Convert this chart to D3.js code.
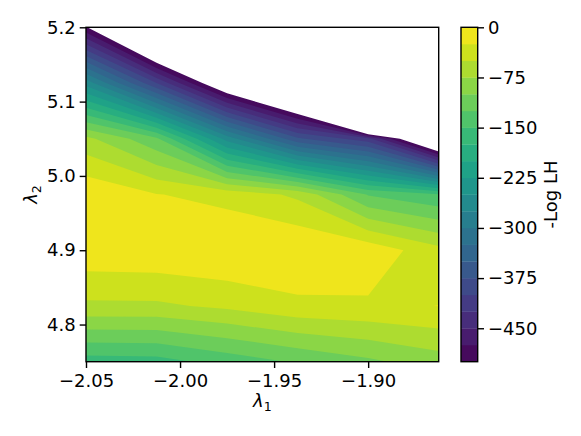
<!DOCTYPE html>
<html><head><meta charset="utf-8">
<script src="https://cdn.jsdelivr.net/npm/d3@7"></script>
<style>
body{margin:0;background:#fff}
text{font-family:"DejaVu Sans",sans-serif;fill:#000}
</style>
</head><body>
<svg id="chart" width="581" height="436"></svg>
<script>
// grid of the scan
const lambda1 = [-2.05, -2.0125, -1.975, -1.9375, -1.9, -1.8625];
const lambda2 = [5.2, 5.125, 5.05, 4.975, 4.9, 4.825, 4.75];
// -Log LH values, one row per lambda2 (top to bottom), one column per lambda1
const row520  = [-497, -676, -850, -1000, -1700, -1800];
const row5125 = [-260, -400, -554, -663, -1440, -1300];
const row505  = [-68, -120, -260, -370, -416, -603];
const row4975 = [-4, -24, -33.6, -55, -127, -148];
const row490  = [-7, -5, -1, -1, -8, -42];
const row4825 = [-54.8, -54.5, -45, -31.1, -28.9, -24.7];
const row475  = [-162, -160, -140, -122, -105, -87];
const negLogLH = [row520, row5125, row505, row4975, row490, row4825, row475];

const levels = [-500,-475,-450,-425,-400,-375,-350,-325,-300,-275,-250,-225,-200,-175,-150,-125,-100,-75,-50,-25,0];
const xTicks = [-2.05, -2.00, -1.95, -1.90];
const yTicks = [4.8, 4.9, 5.0, 5.1, 5.2];
const cbTicks = [0, -75, -150, -225, -300, -375, -450];

const svg = d3.select("#chart");
const L = 86, R = 438.7, T = 27.3, B = 361.7;
const x = d3.scaleLinear().domain(d3.extent(lambda1)).range([L, R]);
const y = d3.scaleLinear().domain(d3.extent(lambda2)).range([B, T]);

const nx = lambda1.length, ny = lambda2.length;
const stepX = lambda1[1] - lambda1[0], stepY = lambda2[1] - lambda2[0];
const gx = c => lambda1[0] + (c - 0.5) * stepX;
const gy = r => lambda2[0] + (r - 0.5) * stepY;

const vmin = levels[0], vmax = levels[levels.length - 1];
const bandColor = i => d3.interpolateViridis(((levels[i] + levels[i + 1]) / 2 - vmin) / (vmax - vmin));

svg.append("defs").append("clipPath").attr("id", "clip")
  .append("rect").attr("x", L).attr("y", T).attr("width", R - L).attr("height", B - T);

const values = negLogLH.flat();
const contours = d3.contours().size([nx, ny]).thresholds(levels.slice(0, -1))(values);
const proj = d3.geoTransform({ point: function(px, py) { this.stream.point(x(gx(px)), y(gy(py))); } });
const path = d3.geoPath(proj);

svg.append("g").attr("clip-path", "url(#clip)")
  .selectAll("path").data(contours).join("path")
  .attr("d", path)
  .attr("fill", d => bandColor(levels.indexOf(d.value)))
  .attr("stroke", "none");

// axes
const fs = 18, tick = 6.3;
const xAxis = d3.axisBottom(x).tickValues(xTicks).tickFormat(d3.format(".2f")).tickSize(tick).tickSizeOuter(0).tickPadding(6.3);
const gX = svg.append("g").attr("transform", `translate(0,${B})`).call(xAxis);
const yAxis = d3.axisLeft(y).tickValues(yTicks).tickFormat(d3.format(".1f")).tickSize(tick).tickSizeOuter(0).tickPadding(4);
const gY = svg.append("g").attr("transform", `translate(${L},0)`).call(yAxis);
[gX, gY].forEach(g => {
  g.select(".domain").remove();
  g.selectAll("line").attr("stroke", "#000").attr("stroke-width", 1.4);
  g.selectAll("text").attr("font-size", fs).attr("font-family", "DejaVu Sans").attr("fill", "#000");
});

svg.append("rect").attr("x", L).attr("y", T).attr("width", R - L).attr("height", B - T)
  .attr("fill", "none").attr("stroke", "#000").attr("stroke-width", 1.4);

// axis labels
const xl = svg.append("text").attr("x", (L + R) / 2).attr("y", 407).attr("text-anchor", "middle").attr("font-size", fs);
xl.append("tspan").attr("font-style", "italic").text("λ");
xl.append("tspan").attr("font-size", 12.6).attr("dy", 3.8).text("1");

const yl = svg.append("text").attr("transform", `translate(37,${(T + B) / 2}) rotate(-90)`).attr("text-anchor", "middle").attr("font-size", fs);
yl.append("tspan").attr("font-style", "italic").text("λ");
yl.append("tspan").attr("font-size", 12.6).attr("dy", 3.8).text("2");

// colorbar
const CL = 461, CR = 477.7;
const cy = d3.scaleLinear().domain([vmin, vmax]).range([B, T]);
svg.append("g").selectAll("rect").data(d3.range(levels.length - 1)).join("rect")
  .attr("x", CL).attr("width", CR - CL)
  .attr("y", i => cy(levels[i + 1])).attr("height", i => cy(levels[i]) - cy(levels[i + 1]) + 0.3)
  .attr("fill", i => bandColor(i));
svg.append("rect").attr("x", CL).attr("y", T).attr("width", CR - CL).attr("height", B - T)
  .attr("fill", "none").attr("stroke", "#000").attr("stroke-width", 1.4);
const cAxis = d3.axisRight(cy).tickValues(cbTicks).tickFormat(d3.format("d")).tickSize(tick).tickSizeOuter(0).tickPadding(4);
const gC = svg.append("g").attr("transform", `translate(${CR},0)`).call(cAxis);
gC.select(".domain").remove();
gC.selectAll("line").attr("stroke", "#000").attr("stroke-width", 1.4);
gC.selectAll("text").attr("font-size", fs).attr("font-family", "DejaVu Sans").attr("fill", "#000");

svg.append("text").attr("transform", `translate(557,${(T + B) / 2}) rotate(-90)`)
  .attr("text-anchor", "middle").attr("font-size", fs).text("-Log LH");
</script>
</body></html>
